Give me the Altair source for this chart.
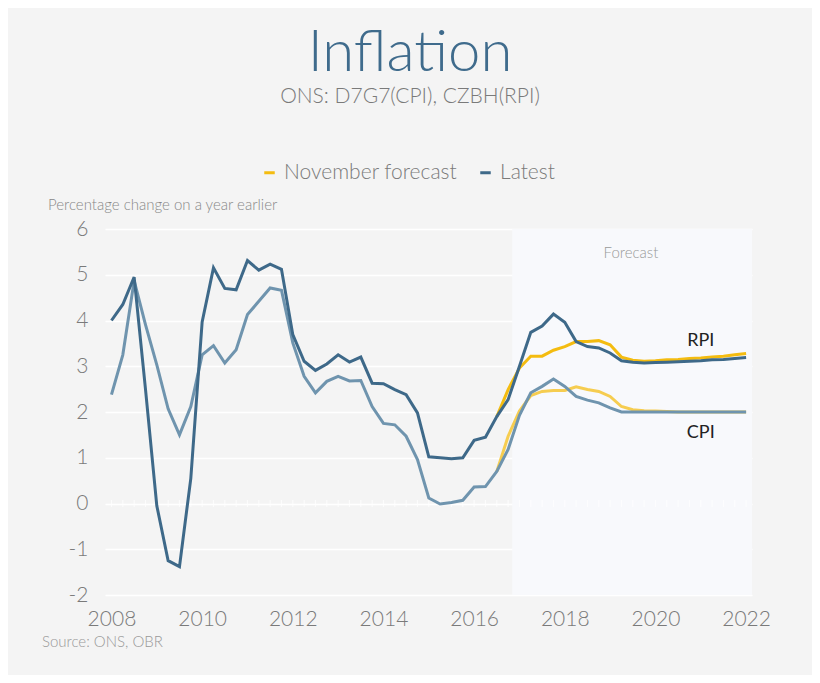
import altair as alt
import pandas as pd

# ---- data (quarterly, first point = 2008 Q1) ----
START_YEAR = 2008
rpi_latest = [4.0, 4.35, 4.95, 2.5,
              -0.05, -1.25, -1.38, 0.55,
              3.97, 5.15, 4.7, 4.67,
              5.31, 5.1, 5.23, 5.12,
              3.69, 3.11, 2.91, 3.05,
              3.25, 3.09, 3.2, 2.63,
              2.62, 2.49, 2.38, 1.98,
              1.02, 1.0, 0.98, 1.0,
              1.38, 1.45, 1.9, 2.27,
              3.0, 3.74, 3.88, 4.14,
              3.96, 3.54, 3.43, 3.4,
              3.29, 3.12, 3.09, 3.07,
              3.08, 3.09, 3.1, 3.11,
              3.12, 3.14, 3.15, 3.17,
              3.19]
cpi_latest = [2.38, 3.25, 4.87, 3.91,
              3.03, 2.07, 1.5, 2.12,
              3.25, 3.45, 3.07, 3.36,
              4.13, 4.42, 4.71, 4.66,
              3.51, 2.78, 2.42, 2.67,
              2.78, 2.68, 2.69, 2.12,
              1.75, 1.72, 1.47, 0.96,
              0.12, -0.01, 0.02, 0.07,
              0.36, 0.37, 0.7, 1.18,
              1.93, 2.42, 2.56, 2.72,
              2.56, 2.34, 2.26, 2.2,
              2.09, 2.0, 2.0, 2.0,
              2.0, 2.0, 2.0, 2.0,
              2.0, 2.0, 2.0, 2.0,
              2.0]
# November forecast starts at 2016 Q3 (quarter index 34)
NOV_START = 34
rpi_nov = [1.9, 2.49,
           2.96, 3.22, 3.22, 3.35,
           3.43, 3.54, 3.54, 3.56,
           3.47, 3.2, 3.13, 3.11,
           3.12, 3.14, 3.15, 3.17,
           3.18, 3.2, 3.22, 3.25,
           3.28]
cpi_nov = [0.7, 1.47,
           2.02, 2.36, 2.45, 2.47,
           2.47, 2.55, 2.49, 2.45,
           2.34, 2.12, 2.05, 2.03,
           2.02, 2.01, 2.0, 2.0,
           2.0, 2.0, 2.0, 2.0,
           2.0]

year_ticks = [2008, 2010, 2012, 2014, 2016, 2018, 2020, 2022]
y_ticks = [-2, -1, 0, 1, 2, 3, 4, 5, 6]
forecast_start = 2016.84
x_domain = [2007.857, 2022.13]
y_domain = [-2, 6]

series_names = ["November forecast", "Latest", "November forecast CPI", "Latest CPI"]
series_colors = ["#f4bc10", "#3e6989", "#f6cd50", "#6f94ae"]


def q_time(i):
    return START_YEAR + i / 4.0


rows = []
for i, v in enumerate(rpi_nov):
    rows.append({"t": q_time(NOV_START + i), "v": v, "series": "November forecast", "ord": 0})
for i, v in enumerate(cpi_nov):
    rows.append({"t": q_time(NOV_START + i), "v": v, "series": "November forecast CPI", "ord": 1})
for i, v in enumerate(cpi_latest):
    rows.append({"t": q_time(i), "v": v, "series": "Latest CPI", "ord": 2})
for i, v in enumerate(rpi_latest):
    rows.append({"t": q_time(i), "v": v, "series": "Latest", "ord": 3})
df = pd.DataFrame(rows)

FONT = "Lato"
GRAY = "#7a7a7a"

X = alt.X("t:Q", scale=alt.Scale(domain=x_domain, nice=False, zero=False),
          axis=alt.Axis(values=year_ticks, format="d", title=None, grid=False, ticks=False,
                        domain=False, labelFontSize=21, labelColor=GRAY, labelFont=FONT,
                        labelFontWeight=300, labelPadding=13))
Y = alt.Y("v:Q", scale=alt.Scale(domain=y_domain, nice=False, zero=False),
          axis=alt.Axis(values=y_ticks, title=None, grid=True, gridColor="white", gridWidth=1.5,
                        ticks=False, domain=False, labelFontSize=21, labelColor=GRAY, labelFont=FONT,
                        labelFontWeight=300, labelPadding=17, labelExpr="datum.value + ''"))

# forecast shading
rect_df = pd.DataFrame({"t": [forecast_start], "t2": [x_domain[1]], "v": [y_domain[1]], "v2": [y_domain[0]]})
shade = alt.Chart(rect_df).mark_rect(color="#f8f9fc").encode(x=X, x2="t2", y=Y, y2="v2")

# quarterly ticks on the zero line
tick_df = pd.DataFrame({"t": [q_time(i) for i in range(0, 57)], "v": [0] * 57})
zero_ticks = alt.Chart(tick_df).mark_tick(orient="vertical", color="white", size=7, thickness=1.2).encode(x=X, y=Y)

lines = alt.Chart(df).mark_line(strokeWidth=3, strokeJoin="miter").encode(
    x=X, y=Y,
    color=alt.Color("series:N",
                    scale=alt.Scale(domain=series_names, range=series_colors),
                    legend=alt.Legend(values=["November forecast", "Latest"], orient="none",
                                      legendX=154, legendY=-67, direction="horizontal", title=None,
                                      symbolType="stroke", symbolStrokeWidth=3, symbolSize=110,
                                      labelFontSize=21, labelColor=GRAY, labelFont=FONT,
                                      labelFontWeight=300, columnPadding=16, labelOffset=4,
                                      labelLimit=0)),
    order="ord:Q",
)

# series labels inside the plot
lab_df = pd.DataFrame({"t": [2021.0, 2021.0, 2019.46], "v": [3.56, 1.55, 5.48],
                       "txt": ["RPI", "CPI", "Forecast"], "kind": ["s", "s", "f"]})
series_labels = alt.Chart(lab_df[lab_df.kind == "s"]).mark_text(
    font=FONT, fontSize=18, color="#222", align="center", baseline="middle").encode(x=X, y=Y, text="txt:N")
forecast_label = alt.Chart(lab_df[lab_df.kind == "f"]).mark_text(
    font=FONT, fontSize=15, fontWeight=300, color="#999", align="center", baseline="middle").encode(x=X, y=Y, text="txt:N")

one = pd.DataFrame({"a": [0]})


def free_text(txt, x, y, size, color, align="left", weight=300, baseline="alphabetic"):
    return alt.Chart(one).mark_text(text=txt, font=FONT, fontSize=size, color=color, align=align,
                                    baseline=baseline, fontWeight=weight).encode(
        x=alt.value(x), y=alt.value(y))


title = free_text("Inflation", 305, -158, 58, "#3f6b8c", align="center")
subtitle = free_text("ONS: D7G7(CPI), CZBH(RPI)", 305, -126, 21, GRAY, align="center")
ytitle = free_text("Percentage change on a year earlier", -57, -19, 15, "#888")
source = free_text("Source: ONS, OBR", -63, 418, 15, "#999")

chart = alt.layer(shade, zero_ticks, lines, series_labels, forecast_label,
                  title, subtitle, ytitle, source).properties(
    width=647, height=366,
    autosize=alt.AutoSizeParams(type="none"),
    padding={"left": 97, "top": 221, "right": 60, "bottom": 80},
    background="#f4f4f4",
).configure_view(stroke=None)

chart.save("out.html", embed_options={"renderer": "svg", "actions": False})
